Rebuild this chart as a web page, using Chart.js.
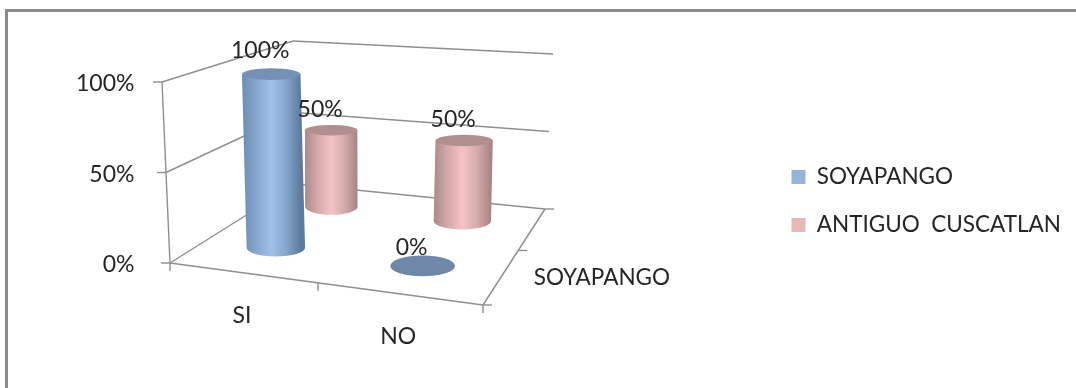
<!DOCTYPE html>
<html>
<head>
<meta charset="utf-8">
<title>SI / NO</title>
<script src="https://cdn.jsdelivr.net/npm/chart.js@4"></script>
<style>
  html, body { margin: 0; padding: 0; background: #fff; }
  #wrap { width: 1076px; height: 388px; }
</style>
</head>
<body>
<div id="wrap"><canvas id="miChart" width="1076" height="388"></canvas></div>
<script>
// Datos del grafico
const categories = ["SI", "NO"];
const seriesNames = ["SOYAPANGO", "ANTIGUO  CUSCATLAN"];
const soyapango = [100, 0];
const antiguo = [50, 50];
const yTicks = [0, 50, 100];

// Profundidad de cada serie dentro de la caja 3D
const seriesDepth = [0.25, 0.75];

// Esquinas de la caja: piso y techo (frente-izq, frente-der, fondo-der, fondo-izq)
const floorQuad = [[170, 263], [483, 305], [545, 209], [296, 184]];
const ceilQuad = [[162, 82], [467, 98], [553, 54], [293, 41]];

const FONT = "Lato, sans-serif";
const TEXT = "#262626";
const LINE = "#8f8f8f";

const palettes = [
    { legend: "#95B3D7", flat: "#6f87a8", top: "#7491b5",
      stops: ["#6d8db3", "#86a7cf", "#a0c1e9", "#86a6cc", "#5c7b9e"] },
    { legend: "#E6B9B8", flat: "#b08e8e", top: "#b18f8f",
      stops: ["#a98a8a", "#d5aaaa", "#f6c3c3", "#d6abab", "#a88484"] }
];

// Homografia del cuadrado unitario al cuadrilatero
const homography = (q) => {
    const [[x0, y0], [x1, y1], [x2, y2], [x3, y3]] = q;
    const dx1 = x1 - x2, dx2 = x3 - x2, sx = x0 - x1 + x2 - x3;
    const dy1 = y1 - y2, dy2 = y3 - y2, sy = y0 - y1 + y2 - y3;
    const det = dx1 * dy2 - dx2 * dy1;
    const g = (sx * dy2 - dx2 * sy) / det;
    const h = (dx1 * sy - sx * dy1) / det;
    const a = x1 - x0 + g * x1, b = x3 - x0 + h * x3;
    const d = y1 - y0 + g * y1, e = y3 - y0 + h * y3;
    return (u, w) => {
        const k = g * u + h * w + 1;
        return [(a * u + b * w + x0) / k, (d * u + e * w + y0) / k];
    };
};
const onFloor = homography(floorQuad);
const onCeil = homography(ceilQuad);

// u: posicion en categorias, w: profundidad, v: altura (0 a 1)
const project = (u, w, v) => {
    const f = onFloor(u, w), c = onCeil(u, w);
    return [f[0] + (c[0] - f[0]) * v, f[1] + (c[1] - f[1]) * v];
};

const segment = (ctx, p, q) => {
    ctx.beginPath();
    ctx.moveTo(p[0], p[1]);
    ctx.lineTo(q[0], q[1]);
    ctx.stroke();
};

const drawFrame = (ctx, chart) => {
    ctx.fillStyle = "#8c8c8c";
    ctx.fillRect(5, 9, chart.width - 5, 3);
    ctx.fillRect(5, 9, 3, chart.height - 9);
};

const drawBox = (ctx, yNorm) => {
    ctx.strokeStyle = LINE;
    ctx.lineWidth = 1.4;
    const wall = (corner, v) => {
        const f = floorQuad[corner], c = ceilQuad[corner];
        return [f[0] + (c[0] - f[0]) * v, f[1] + (c[1] - f[1]) * v];
    };
    yTicks.forEach(t => {
        const v = yNorm(t);
        segment(ctx, wall(0, v), wall(3, v));
        segment(ctx, wall(3, v), wall(2, v));
        const p = wall(0, v);
        segment(ctx, p, [p[0] - 9, p[1]]);
    });
    segment(ctx, wall(0, 0), wall(0, 1));
    // Piso
    segment(ctx, project(0, 0, 0), project(1, 0, 0));
    segment(ctx, project(1, 0, 0), project(1, 1, 0));
    [0, 0.5, 1].forEach(t => {
        const p = project(t, 0, 0), q = project(1, t, 0);
        segment(ctx, p, [p[0], p[1] + 8]);
        segment(ctx, q, [q[0] + 9, q[1]]);
    });
};

const drawCylinder = (ctx, u, w, v, pal) => {
    const a = onFloor(u - 0.1, w), b = onFloor(u + 0.1, w);
    const rx = Math.hypot(b[0] - a[0], b[1] - a[1]) / 2 * 1.04;
    const base = project(u, w, 0), top = project(u, w, v);
    // Valor cero: solo un disco en el piso
    if (v === 0) {
        ctx.fillStyle = pal.flat;
        ctx.beginPath();
        ctx.ellipse(base[0], base[1], rx, rx * 0.32, 0, 0, Math.PI * 2);
        ctx.fill();
        return;
    }
    const left = Math.min(base[0], top[0]) - rx;
    const grad = ctx.createLinearGradient(left, 0, left + rx * 2, 0);
    pal.stops.forEach((c, i) => grad.addColorStop(i / (pal.stops.length - 1), c));
    ctx.fillStyle = grad;
    ctx.beginPath();
    ctx.moveTo(top[0] - rx, top[1]);
    ctx.lineTo(base[0] - rx, base[1]);
    ctx.ellipse(base[0], base[1], rx, rx * 0.3, 0, Math.PI, 0, true);
    ctx.lineTo(top[0] + rx, top[1]);
    ctx.closePath();
    ctx.fill();
    ctx.fillStyle = pal.top;
    ctx.beginPath();
    ctx.ellipse(top[0], top[1], rx, rx * 0.2, 0, 0, Math.PI * 2);
    ctx.fill();
};

const cylinders3d = {
    id: "cylinders3d",
    // Ubicar la leyenda a la altura y margen correctos
    afterLayout(chart) {
        const lg = chart.legend;
        const h = lg.bottom - lg.top;
        lg.left = 766;
        lg.right = chart.width;
        lg.top = 201 - h / 2;
        lg.bottom = lg.top + h;
    },
    beforeDraw(chart) {
        drawFrame(chart.ctx, chart);
    },
    // Las barras planas se reemplazan por cilindros
    beforeDatasetsDraw(chart) {
        const ctx = chart.ctx;
        const x = chart.scales.x, y = chart.scales.y;
        const uNorm = (i) => (x.getPixelForValue(i) - x.left) / x.width;
        const yNorm = (val) => (y.bottom - y.getPixelForValue(val)) / y.height;

        ctx.save();
        drawBox(ctx, yNorm);

        // Primero la serie del fondo
        for (let s = chart.data.datasets.length - 1; s >= 0; s--) {
            chart.data.datasets[s].data.forEach((val, i) => {
                drawCylinder(ctx, uNorm(i), seriesDepth[s], yNorm(val), palettes[s]);
            });
        }

        // Etiquetas de valor y de ejes
        ctx.fillStyle = TEXT;
        ctx.font = `23px ${FONT}`;
        ctx.textAlign = "center";
        ctx.textBaseline = "middle";
        chart.data.datasets.forEach((ds, s) => {
            ds.data.forEach((val, i) => {
                const v = yNorm(val);
                const p = project(uNorm(i), seriesDepth[s], v);
                ctx.fillText(`${val}%`, p[0] - 11, p[1] - 18 - 6 * v);
            });
        });
        categories.forEach((c, i) => {
            const p = project(uNorm(i), 0, 0);
            ctx.fillText(c, p[0], p[1] + 43);
        });
        const q = project(1, seriesDepth[0], 0);
        ctx.font = `22.5px ${FONT}`;
        ctx.fillText(seriesNames[0], q[0] + 100, q[1] + 2);
        ctx.restore();
        return false;
    }
};

const miChart = new Chart(document.querySelector("#miChart"), {
    type: "bar",
    data: {
        labels: categories,
        datasets: [
            { label: seriesNames[0], data: soyapango, backgroundColor: palettes[0].legend },
            { label: seriesNames[1], data: antiguo, backgroundColor: palettes[1].legend }
        ]
    },
    options: {
        responsive: false,
        animation: false,
        layout: { padding: { top: 84, bottom: 123, left: 73 } },
        scales: {
            x: { display: false },
            y: {
                min: 0,
                max: 100,
                grid: { display: false },
                border: { display: false },
                afterBuildTicks: (axis) => { axis.ticks = yTicks.map(value => ({ value })); },
                ticks: {
                    callback: (v) => `${v}%`,
                    color: TEXT,
                    font: { family: FONT, size: 23 },
                    padding: 3
                }
            }
        },
        plugins: {
            tooltip: { enabled: false },
            legend: {
                position: "right",
                labels: {
                    boxWidth: 14,
                    boxHeight: 14,
                    padding: 25.5,
                    color: TEXT,
                    font: { family: FONT, size: 22.5 }
                }
            }
        }
    },
    plugins: [cylinders3d]
});
</script>
</body>
</html>
